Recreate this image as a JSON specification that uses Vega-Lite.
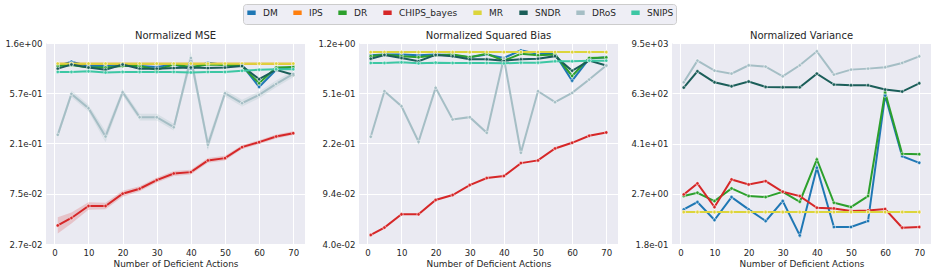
{
  "$schema": "https://vega.github.io/schema/vega-lite/v6.json",
  "background": "white",
  "padding": {"left": 4, "top": 3, "right": 4, "bottom": 2},
  "spacing": 12,
  "datasets": {
    "d": [
      {"panel":"MSE","method":"DM","x":1,"y":0.99},{"panel":"MSE","method":"DM","x":5,"y":1.08},{"panel":"MSE","method":"DM","x":10,"y":0.99},{"panel":"MSE","method":"DM","x":15,"y":0.99},{"panel":"MSE","method":"DM","x":20,"y":1.01},{"panel":"MSE","method":"DM","x":25,"y":0.99},{"panel":"MSE","method":"DM","x":30,"y":0.97},{"panel":"MSE","method":"DM","x":35,"y":1.02},{"panel":"MSE","method":"DM","x":40,"y":0.94},{"panel":"MSE","method":"DM","x":45,"y":1.06},{"panel":"MSE","method":"DM","x":50,"y":1.01},{"panel":"MSE","method":"DM","x":55,"y":1.01},{"panel":"MSE","method":"DM","x":60,"y":0.65},{"panel":"MSE","method":"DM","x":65,"y":0.92},{"panel":"MSE","method":"DM","x":70,"y":0.97},
      {"panel":"MSE","method":"IPS","x":1,"y":1.04},{"panel":"MSE","method":"IPS","x":5,"y":1.04},{"panel":"MSE","method":"IPS","x":10,"y":1.04},{"panel":"MSE","method":"IPS","x":15,"y":1.04},{"panel":"MSE","method":"IPS","x":20,"y":1.04},{"panel":"MSE","method":"IPS","x":25,"y":1.04},{"panel":"MSE","method":"IPS","x":30,"y":1.04},{"panel":"MSE","method":"IPS","x":35,"y":1.04},{"panel":"MSE","method":"IPS","x":40,"y":1.04},{"panel":"MSE","method":"IPS","x":45,"y":1.04},{"panel":"MSE","method":"IPS","x":50,"y":1.04},{"panel":"MSE","method":"IPS","x":55,"y":1.04},{"panel":"MSE","method":"IPS","x":60,"y":1.04},{"panel":"MSE","method":"IPS","x":65,"y":1.04},{"panel":"MSE","method":"IPS","x":70,"y":1.04},
      {"panel":"MSE","method":"DR","x":1,"y":0.99},{"panel":"MSE","method":"DR","x":5,"y":1.01},{"panel":"MSE","method":"DR","x":10,"y":0.96},{"panel":"MSE","method":"DR","x":15,"y":0.96},{"panel":"MSE","method":"DR","x":20,"y":0.99},{"panel":"MSE","method":"DR","x":25,"y":0.99},{"panel":"MSE","method":"DR","x":30,"y":0.92},{"panel":"MSE","method":"DR","x":35,"y":1.02},{"panel":"MSE","method":"DR","x":40,"y":0.97},{"panel":"MSE","method":"DR","x":45,"y":1.02},{"panel":"MSE","method":"DR","x":50,"y":1.01},{"panel":"MSE","method":"DR","x":55,"y":0.99},{"panel":"MSE","method":"DR","x":60,"y":0.70},{"panel":"MSE","method":"DR","x":65,"y":0.96},{"panel":"MSE","method":"DR","x":70,"y":0.97},
      {"panel":"MSE","method":"CHIPS_bayes","x":1,"y":0.0396,"lo":0.0336,"hi":0.0467},{"panel":"MSE","method":"CHIPS_bayes","x":5,"y":0.046,"lo":0.0411,"hi":0.0515},{"panel":"MSE","method":"CHIPS_bayes","x":10,"y":0.0586,"lo":0.0543,"hi":0.0633},{"panel":"MSE","method":"CHIPS_bayes","x":15,"y":0.0586,"lo":0.0548,"hi":0.0627},{"panel":"MSE","method":"CHIPS_bayes","x":20,"y":0.0751,"lo":0.0708,"hi":0.0796},{"panel":"MSE","method":"CHIPS_bayes","x":25,"y":0.0831,"lo":0.0791,"hi":0.0873},{"panel":"MSE","method":"CHIPS_bayes","x":30,"y":0.0989,"lo":0.0942,"hi":0.1038},{"panel":"MSE","method":"CHIPS_bayes","x":35,"y":0.1131,"lo":0.1077,"hi":0.1188},{"panel":"MSE","method":"CHIPS_bayes","x":40,"y":0.1162,"lo":0.1107,"hi":0.122},{"panel":"MSE","method":"CHIPS_bayes","x":45,"y":0.1471,"lo":0.1401,"hi":0.1545},{"panel":"MSE","method":"CHIPS_bayes","x":50,"y":0.1541,"lo":0.1468,"hi":0.1618},{"panel":"MSE","method":"CHIPS_bayes","x":55,"y":0.1924,"lo":0.185,"hi":0.2001},{"panel":"MSE","method":"CHIPS_bayes","x":60,"y":0.2129,"lo":0.2047,"hi":0.2214},{"panel":"MSE","method":"CHIPS_bayes","x":65,"y":0.2386,"lo":0.2294,"hi":0.2481},{"panel":"MSE","method":"CHIPS_bayes","x":70,"y":0.2552,"lo":0.2454,"hi":0.2654},
      {"panel":"MSE","method":"MR","x":1,"y":1.04},{"panel":"MSE","method":"MR","x":5,"y":1.04},{"panel":"MSE","method":"MR","x":10,"y":1.04},{"panel":"MSE","method":"MR","x":15,"y":1.04},{"panel":"MSE","method":"MR","x":20,"y":1.04},{"panel":"MSE","method":"MR","x":25,"y":1.04},{"panel":"MSE","method":"MR","x":30,"y":1.04},{"panel":"MSE","method":"MR","x":35,"y":1.04},{"panel":"MSE","method":"MR","x":40,"y":1.04},{"panel":"MSE","method":"MR","x":45,"y":1.04},{"panel":"MSE","method":"MR","x":50,"y":1.04},{"panel":"MSE","method":"MR","x":55,"y":1.04},{"panel":"MSE","method":"MR","x":60,"y":1.04},{"panel":"MSE","method":"MR","x":65,"y":1.04},{"panel":"MSE","method":"MR","x":70,"y":1.04},
      {"panel":"MSE","method":"SNDR","x":1,"y":0.94},{"panel":"MSE","method":"SNDR","x":5,"y":1.02},{"panel":"MSE","method":"SNDR","x":10,"y":0.96},{"panel":"MSE","method":"SNDR","x":15,"y":0.92},{"panel":"MSE","method":"SNDR","x":20,"y":1.02},{"panel":"MSE","method":"SNDR","x":25,"y":0.94},{"panel":"MSE","method":"SNDR","x":30,"y":0.94},{"panel":"MSE","method":"SNDR","x":35,"y":0.95},{"panel":"MSE","method":"SNDR","x":40,"y":0.96},{"panel":"MSE","method":"SNDR","x":45,"y":0.95},{"panel":"MSE","method":"SNDR","x":50,"y":0.96},{"panel":"MSE","method":"SNDR","x":55,"y":0.99},{"panel":"MSE","method":"SNDR","x":60,"y":0.76},{"panel":"MSE","method":"SNDR","x":65,"y":0.92},{"panel":"MSE","method":"SNDR","x":70,"y":0.83},
      {"panel":"MSE","method":"DRoS","x":1,"y":0.2468,"lo":0.2307,"hi":0.2641},{"panel":"MSE","method":"DRoS","x":5,"y":0.5642,"lo":0.5273,"hi":0.6037},{"panel":"MSE","method":"DRoS","x":10,"y":0.4225,"lo":0.3949,"hi":0.4521},{"panel":"MSE","method":"DRoS","x":15,"y":0.2386,"lo":0.213,"hi":0.2672},{"panel":"MSE","method":"DRoS","x":20,"y":0.5834,"lo":0.5452,"hi":0.6242},{"panel":"MSE","method":"DRoS","x":25,"y":0.3525,"lo":0.3294,"hi":0.3772},{"panel":"MSE","method":"DRoS","x":30,"y":0.3525,"lo":0.3294,"hi":0.3772},{"panel":"MSE","method":"DRoS","x":35,"y":0.288,"lo":0.2692,"hi":0.3082},{"panel":"MSE","method":"DRoS","x":40,"y":1.166,"lo":1.014,"hi":1.341},{"panel":"MSE","method":"DRoS","x":45,"y":0.2017,"lo":0.1801,"hi":0.2259},{"panel":"MSE","method":"DRoS","x":50,"y":0.5718,"lo":0.5344,"hi":0.6118},{"panel":"MSE","method":"DRoS","x":55,"y":0.4675,"lo":0.4369,"hi":0.5002},{"panel":"MSE","method":"DRoS","x":60,"y":0.5529,"lo":0.5167,"hi":0.5916},{"panel":"MSE","method":"DRoS","x":65,"y":0.6903,"lo":0.6451,"hi":0.7386},{"panel":"MSE","method":"DRoS","x":70,"y":0.8448,"lo":0.7895,"hi":0.9039},
      {"panel":"MSE","method":"SNIPS","x":1,"y":0.88},{"panel":"MSE","method":"SNIPS","x":5,"y":0.88},{"panel":"MSE","method":"SNIPS","x":10,"y":0.89},{"panel":"MSE","method":"SNIPS","x":15,"y":0.87},{"panel":"MSE","method":"SNIPS","x":20,"y":0.88},{"panel":"MSE","method":"SNIPS","x":25,"y":0.88},{"panel":"MSE","method":"SNIPS","x":30,"y":0.88},{"panel":"MSE","method":"SNIPS","x":35,"y":0.88},{"panel":"MSE","method":"SNIPS","x":40,"y":0.87},{"panel":"MSE","method":"SNIPS","x":45,"y":0.88},{"panel":"MSE","method":"SNIPS","x":50,"y":0.88},{"panel":"MSE","method":"SNIPS","x":55,"y":0.9},{"panel":"MSE","method":"SNIPS","x":60,"y":0.92},{"panel":"MSE","method":"SNIPS","x":65,"y":0.93},{"panel":"MSE","method":"SNIPS","x":70,"y":0.93},

      {"panel":"Bias","method":"DM","x":1,"y":0.976},{"panel":"Bias","method":"DM","x":5,"y":0.987},{"panel":"Bias","method":"DM","x":10,"y":0.987},{"panel":"Bias","method":"DM","x":15,"y":0.976},{"panel":"Bias","method":"DM","x":20,"y":0.987},{"panel":"Bias","method":"DM","x":25,"y":0.976},{"panel":"Bias","method":"DM","x":30,"y":0.943},{"panel":"Bias","method":"DM","x":35,"y":0.987},{"panel":"Bias","method":"DM","x":40,"y":0.932},{"panel":"Bias","method":"DM","x":45,"y":1.058},{"panel":"Bias","method":"DM","x":50,"y":0.998},{"panel":"Bias","method":"DM","x":55,"y":0.998},{"panel":"Bias","method":"DM","x":60,"y":0.634},{"panel":"Bias","method":"DM","x":65,"y":0.921},{"panel":"Bias","method":"DM","x":70,"y":0.943},
      {"panel":"Bias","method":"IPS","x":1,"y":1.028},{"panel":"Bias","method":"IPS","x":5,"y":1.028},{"panel":"Bias","method":"IPS","x":10,"y":1.028},{"panel":"Bias","method":"IPS","x":15,"y":1.028},{"panel":"Bias","method":"IPS","x":20,"y":1.028},{"panel":"Bias","method":"IPS","x":25,"y":1.028},{"panel":"Bias","method":"IPS","x":30,"y":1.028},{"panel":"Bias","method":"IPS","x":35,"y":1.028},{"panel":"Bias","method":"IPS","x":40,"y":1.028},{"panel":"Bias","method":"IPS","x":45,"y":1.028},{"panel":"Bias","method":"IPS","x":50,"y":1.028},{"panel":"Bias","method":"IPS","x":55,"y":1.028},{"panel":"Bias","method":"IPS","x":60,"y":1.028},{"panel":"Bias","method":"IPS","x":65,"y":1.028},{"panel":"Bias","method":"IPS","x":70,"y":1.028},
      {"panel":"Bias","method":"DR","x":1,"y":0.959},{"panel":"Bias","method":"DR","x":5,"y":0.987},{"panel":"Bias","method":"DR","x":10,"y":0.959},{"panel":"Bias","method":"DR","x":15,"y":0.943},{"panel":"Bias","method":"DR","x":20,"y":0.976},{"panel":"Bias","method":"DR","x":25,"y":0.987},{"panel":"Bias","method":"DR","x":30,"y":0.943},{"panel":"Bias","method":"DR","x":35,"y":0.998},{"panel":"Bias","method":"DR","x":40,"y":0.89},{"panel":"Bias","method":"DR","x":45,"y":0.998},{"panel":"Bias","method":"DR","x":50,"y":0.976},{"panel":"Bias","method":"DR","x":55,"y":0.987},{"panel":"Bias","method":"DR","x":60,"y":0.687},{"panel":"Bias","method":"DR","x":65,"y":0.93},{"panel":"Bias","method":"DR","x":70,"y":0.94},
      {"panel":"Bias","method":"CHIPS_bayes","x":1,"y":0.0466},{"panel":"Bias","method":"CHIPS_bayes","x":5,"y":0.0528},{"panel":"Bias","method":"CHIPS_bayes","x":10,"y":0.0661},{"panel":"Bias","method":"CHIPS_bayes","x":15,"y":0.0661},{"panel":"Bias","method":"CHIPS_bayes","x":20,"y":0.0842},{"panel":"Bias","method":"CHIPS_bayes","x":25,"y":0.0916},{"panel":"Bias","method":"CHIPS_bayes","x":30,"y":0.1084},{"panel":"Bias","method":"CHIPS_bayes","x":35,"y":0.1221},{"panel":"Bias","method":"CHIPS_bayes","x":40,"y":0.1263},{"panel":"Bias","method":"CHIPS_bayes","x":45,"y":0.1572},{"panel":"Bias","method":"CHIPS_bayes","x":50,"y":0.1645},{"panel":"Bias","method":"CHIPS_bayes","x":55,"y":0.2014},{"panel":"Bias","method":"CHIPS_bayes","x":60,"y":0.2216},{"panel":"Bias","method":"CHIPS_bayes","x":65,"y":0.2495},{"panel":"Bias","method":"CHIPS_bayes","x":70,"y":0.2639},
      {"panel":"Bias","method":"MR","x":1,"y":1.028},{"panel":"Bias","method":"MR","x":5,"y":1.028},{"panel":"Bias","method":"MR","x":10,"y":1.028},{"panel":"Bias","method":"MR","x":15,"y":1.028},{"panel":"Bias","method":"MR","x":20,"y":1.028},{"panel":"Bias","method":"MR","x":25,"y":1.028},{"panel":"Bias","method":"MR","x":30,"y":1.028},{"panel":"Bias","method":"MR","x":35,"y":1.028},{"panel":"Bias","method":"MR","x":40,"y":1.028},{"panel":"Bias","method":"MR","x":45,"y":1.028},{"panel":"Bias","method":"MR","x":50,"y":1.028},{"panel":"Bias","method":"MR","x":55,"y":1.028},{"panel":"Bias","method":"MR","x":60,"y":1.028},{"panel":"Bias","method":"MR","x":65,"y":1.028},{"panel":"Bias","method":"MR","x":70,"y":1.028},
      {"panel":"Bias","method":"SNDR","x":1,"y":0.92},{"panel":"Bias","method":"SNDR","x":5,"y":0.98},{"panel":"Bias","method":"SNDR","x":10,"y":0.93},{"panel":"Bias","method":"SNDR","x":15,"y":0.88},{"panel":"Bias","method":"SNDR","x":20,"y":0.98},{"panel":"Bias","method":"SNDR","x":25,"y":0.96},{"panel":"Bias","method":"SNDR","x":30,"y":0.91},{"panel":"Bias","method":"SNDR","x":35,"y":0.91},{"panel":"Bias","method":"SNDR","x":40,"y":0.89},{"panel":"Bias","method":"SNDR","x":45,"y":0.91},{"panel":"Bias","method":"SNDR","x":50,"y":0.92},{"panel":"Bias","method":"SNDR","x":55,"y":0.96},{"panel":"Bias","method":"SNDR","x":60,"y":0.75},{"panel":"Bias","method":"SNDR","x":65,"y":0.89},{"panel":"Bias","method":"SNDR","x":70,"y":0.82},
      {"panel":"Bias","method":"DRoS","x":1,"y":0.2454},{"panel":"Bias","method":"DRoS","x":5,"y":0.5305},{"panel":"Bias","method":"DRoS","x":10,"y":0.4117},{"panel":"Bias","method":"DRoS","x":15,"y":0.2254},{"panel":"Bias","method":"DRoS","x":20,"y":0.5611},{"panel":"Bias","method":"DRoS","x":25,"y":0.3287},{"panel":"Bias","method":"DRoS","x":30,"y":0.342},{"panel":"Bias","method":"DRoS","x":35,"y":0.2624},{"panel":"Bias","method":"DRoS","x":40,"y":0.931},{"panel":"Bias","method":"DRoS","x":45,"y":0.1872},{"panel":"Bias","method":"DRoS","x":50,"y":0.5305},{"panel":"Bias","method":"DRoS","x":55,"y":0.4406},{"panel":"Bias","method":"DRoS","x":60,"y":0.5157},{"panel":"Bias","method":"DRoS","x":65,"y":0.6458},{"panel":"Bias","method":"DRoS","x":70,"y":0.8183},
      {"panel":"Bias","method":"SNIPS","x":1,"y":0.855},{"panel":"Bias","method":"SNIPS","x":5,"y":0.855},{"panel":"Bias","method":"SNIPS","x":10,"y":0.865},{"panel":"Bias","method":"SNIPS","x":15,"y":0.85},{"panel":"Bias","method":"SNIPS","x":20,"y":0.86},{"panel":"Bias","method":"SNIPS","x":25,"y":0.855},{"panel":"Bias","method":"SNIPS","x":30,"y":0.855},{"panel":"Bias","method":"SNIPS","x":35,"y":0.855},{"panel":"Bias","method":"SNIPS","x":40,"y":0.85},{"panel":"Bias","method":"SNIPS","x":45,"y":0.86},{"panel":"Bias","method":"SNIPS","x":50,"y":0.86},{"panel":"Bias","method":"SNIPS","x":55,"y":0.88},{"panel":"Bias","method":"SNIPS","x":60,"y":0.88},{"panel":"Bias","method":"SNIPS","x":65,"y":0.89},{"panel":"Bias","method":"SNIPS","x":70,"y":0.89},

      {"panel":"Var","method":"DM","x":1,"y":1.17},{"panel":"Var","method":"DM","x":5,"y":1.739},{"panel":"Var","method":"DM","x":10,"y":0.658},{"panel":"Var","method":"DM","x":15,"y":2.278},{"panel":"Var","method":"DM","x":20,"y":1.17},{"panel":"Var","method":"DM","x":25,"y":0.623},{"panel":"Var","method":"DM","x":30,"y":1.835},{"panel":"Var","method":"DM","x":35,"y":0.287},{"panel":"Var","method":"DM","x":40,"y":11.11},{"panel":"Var","method":"DM","x":45,"y":0.4506},{"panel":"Var","method":"DM","x":50,"y":0.4506},{"panel":"Var","method":"DM","x":55,"y":0.623},{"panel":"Var","method":"DM","x":60,"y":552},{"panel":"Var","method":"DM","x":65,"y":20.86},{"panel":"Var","method":"DM","x":70,"y":14.55},
      {"panel":"Var","method":"IPS","x":1,"y":1.013},{"panel":"Var","method":"IPS","x":5,"y":1.013},{"panel":"Var","method":"IPS","x":10,"y":1.013},{"panel":"Var","method":"IPS","x":15,"y":1.013},{"panel":"Var","method":"IPS","x":20,"y":1.013},{"panel":"Var","method":"IPS","x":25,"y":1.013},{"panel":"Var","method":"IPS","x":30,"y":1.013},{"panel":"Var","method":"IPS","x":35,"y":1.013},{"panel":"Var","method":"IPS","x":40,"y":1.013},{"panel":"Var","method":"IPS","x":45,"y":1.013},{"panel":"Var","method":"IPS","x":50,"y":1.013},{"panel":"Var","method":"IPS","x":55,"y":1.013},{"panel":"Var","method":"IPS","x":60,"y":1.013},{"panel":"Var","method":"IPS","x":65,"y":1.013},{"panel":"Var","method":"IPS","x":70,"y":1.013},
      {"panel":"Var","method":"DR","x":1,"y":2.404},{"panel":"Var","method":"DR","x":5,"y":2.878},{"panel":"Var","method":"DR","x":10,"y":1.835},{"panel":"Var","method":"DR","x":15,"y":3.637},{"panel":"Var","method":"DR","x":20,"y":2.404},{"panel":"Var","method":"DR","x":25,"y":2.278},{"panel":"Var","method":"DR","x":30,"y":3.038},{"panel":"Var","method":"DR","x":35,"y":1.77},{"panel":"Var","method":"DR","x":40,"y":17.42},{"panel":"Var","method":"DR","x":45,"y":1.677},{"panel":"Var","method":"DR","x":50,"y":1.327},{"panel":"Var","method":"DR","x":55,"y":2.404},{"panel":"Var","method":"DR","x":60,"y":661},{"panel":"Var","method":"DR","x":65,"y":23.65},{"panel":"Var","method":"DR","x":70,"y":23.24},
      {"panel":"Var","method":"CHIPS_bayes","x":1,"y":2.63},{"panel":"Var","method":"CHIPS_bayes","x":5,"y":4.766},{"panel":"Var","method":"CHIPS_bayes","x":10,"y":1.327},{"panel":"Var","method":"CHIPS_bayes","x":15,"y":5.914},{"panel":"Var","method":"CHIPS_bayes","x":20,"y":4.514},{"panel":"Var","method":"CHIPS_bayes","x":25,"y":5.405},{"panel":"Var","method":"CHIPS_bayes","x":30,"y":3.038},{"panel":"Var","method":"CHIPS_bayes","x":35,"y":2.404},{"panel":"Var","method":"CHIPS_bayes","x":40,"y":1.28},{"panel":"Var","method":"CHIPS_bayes","x":45,"y":1.235},{"panel":"Var","method":"CHIPS_bayes","x":50,"y":1.069},{"panel":"Var","method":"CHIPS_bayes","x":55,"y":1.108},{"panel":"Var","method":"CHIPS_bayes","x":60,"y":1.191},{"panel":"Var","method":"CHIPS_bayes","x":65,"y":0.4347},{"panel":"Var","method":"CHIPS_bayes","x":70,"y":0.4506},
      {"panel":"Var","method":"MR","x":1,"y":1.013},{"panel":"Var","method":"MR","x":5,"y":1.013},{"panel":"Var","method":"MR","x":10,"y":1.013},{"panel":"Var","method":"MR","x":15,"y":1.013},{"panel":"Var","method":"MR","x":20,"y":1.013},{"panel":"Var","method":"MR","x":25,"y":1.013},{"panel":"Var","method":"MR","x":30,"y":1.013},{"panel":"Var","method":"MR","x":35,"y":1.013},{"panel":"Var","method":"MR","x":40,"y":1.013},{"panel":"Var","method":"MR","x":45,"y":1.013},{"panel":"Var","method":"MR","x":50,"y":1.013},{"panel":"Var","method":"MR","x":55,"y":1.013},{"panel":"Var","method":"MR","x":60,"y":1.013},{"panel":"Var","method":"MR","x":65,"y":1.013},{"panel":"Var","method":"MR","x":70,"y":1.013},
      {"panel":"Var","method":"SNDR","x":1,"y":851},{"panel":"Var","method":"SNDR","x":5,"y":2056},{"panel":"Var","method":"SNDR","x":10,"y":1135},{"panel":"Var","method":"SNDR","x":15,"y":915},{"panel":"Var","method":"SNDR","x":20,"y":1177},{"panel":"Var","method":"SNDR","x":25,"y":882},{"panel":"Var","method":"SNDR","x":30,"y":866},{"panel":"Var","method":"SNDR","x":35,"y":866},{"panel":"Var","method":"SNDR","x":40,"y":1813},{"panel":"Var","method":"SNDR","x":45,"y":1001},{"panel":"Var","method":"SNDR","x":50,"y":965},{"panel":"Var","method":"SNDR","x":55,"y":965},{"panel":"Var","method":"SNDR","x":60,"y":764},{"panel":"Var","method":"SNDR","x":65,"y":686},{"panel":"Var","method":"SNDR","x":70,"y":1075},
      {"panel":"Var","method":"DRoS","x":1,"y":1135},{"panel":"Var","method":"DRoS","x":5,"y":3659},{"panel":"Var","method":"DRoS","x":10,"y":2132},{"panel":"Var","method":"DRoS","x":15,"y":1813},{"panel":"Var","method":"DRoS","x":20,"y":2843},{"panel":"Var","method":"DRoS","x":25,"y":2646},{"panel":"Var","method":"DRoS","x":30,"y":1570},{"panel":"Var","method":"DRoS","x":35,"y":2843},{"panel":"Var","method":"DRoS","x":40,"y":6057},{"panel":"Var","method":"DRoS","x":45,"y":1718},{"panel":"Var","method":"DRoS","x":50,"y":2250},{"panel":"Var","method":"DRoS","x":55,"y":2375},{"panel":"Var","method":"DRoS","x":60,"y":2552},{"panel":"Var","method":"DRoS","x":65,"y":3226},{"panel":"Var","method":"DRoS","x":70,"y":4623}
    ]
  },
  "hconcat": [
    {
      "title": "Normalized MSE",
      "width": 259, "height": 201,
      "data": {"name": "d"},
      "transform": [{"filter": "datum.panel === 'MSE'"}],
      "encoding": {
        "x": {"field": "x", "type": "quantitative", "title": "Number of Deficient Actions", "scale": {"domain": [-2.45, 73.45], "nice": false, "zero": false}, "axis": {"values": [0,10,20,30,40,50,60,70]}}
      },
      "layer": [
        {
          "transform": [{"filter": "datum.method === 'CHIPS_bayes'"}],
          "mark": {"type": "area", "opacity": 0.2, "color": "#d62728"},
          "encoding": {
            "y": {"field": "lo", "type": "quantitative", "scale": {"type": "log", "domain": [0.0272, 1.578], "nice": false}, "axis": {"title": null, "values": [0.0272, 0.07507, 0.2072, 0.5719, 1.578], "labelExpr": "replace(replace(format(datum.value, '.1e'), 'e+', 'e+0'), 'e-', 'e-0')"}},
            "y2": {"field": "hi"}
          }
        },
        {
          "transform": [{"filter": "datum.method === 'DRoS'"}],
          "mark": {"type": "area", "opacity": 0.25, "color": "#a5bec5"},
          "encoding": {
            "y": {"field": "lo", "type": "quantitative"},
            "y2": {"field": "hi"}
          }
        },
        {
          "mark": {"type": "line", "strokeWidth": 2, "point": {"filled": true, "size": 12, "stroke": "white", "strokeWidth": 0.5}},
          "encoding": {
            "y": {"field": "y", "type": "quantitative"},
            "color": {"field": "method", "type": "nominal", "scale": {"domain": ["DM","IPS","DR","CHIPS_bayes","MR","SNDR","DRoS","SNIPS"], "range": ["#1f77b4", "#ff7f0e", "#2ca02c", "#d62728", "#dcd53c", "#1b5e59", "#a5bec5", "#3dc7a4"]}}
          }
        }
      ]
    },
    {
      "title": "Normalized Squared Bias",
      "width": 259, "height": 201,
      "data": {"name": "d"},
      "transform": [{"filter": "datum.panel === 'Bias'"}],
      "mark": {"type": "line", "strokeWidth": 2, "point": {"filled": true, "size": 12, "stroke": "white", "strokeWidth": 0.5}},
      "encoding": {
        "x": {"field": "x", "type": "quantitative", "title": "Number of Deficient Actions", "scale": {"domain": [-2.45, 73.45], "nice": false, "zero": false}, "axis": {"values": [0,10,20,30,40,50,60,70]}},
        "y": {"field": "y", "type": "quantitative", "scale": {"type": "log", "domain": [0.04, 1.199287], "nice": false}, "axis": {"title": null, "values": [0.04, 0.0936, 0.219024, 0.512516, 1.199287], "labelExpr": "replace(replace(format(datum.value, '.1e'), 'e+', 'e+0'), 'e-', 'e-0')"}},
        "color": {"field": "method", "type": "nominal", "scale": {"domain": ["DM","IPS","DR","CHIPS_bayes","MR","SNDR","DRoS","SNIPS"], "range": ["#1f77b4", "#ff7f0e", "#2ca02c", "#d62728", "#dcd53c", "#1b5e59", "#a5bec5", "#3dc7a4"]}}
      }
    },
    {
      "title": "Normalized Variance",
      "width": 259, "height": 201,
      "data": {"name": "d"},
      "transform": [{"filter": "datum.panel === 'Var'"}],
      "mark": {"type": "line", "strokeWidth": 2, "point": {"filled": true, "size": 12, "stroke": "white", "strokeWidth": 0.5}},
      "encoding": {
        "x": {"field": "x", "type": "quantitative", "title": "Number of Deficient Actions", "scale": {"domain": [-2.45, 73.45], "nice": false, "zero": false}, "axis": {"values": [0,10,20,30,40,50,60,70]}},
        "y": {"field": "y", "type": "quantitative", "scale": {"type": "log", "domain": [0.18, 9500], "nice": false}, "axis": {"title": null, "values": [0.18, 2.728, 41.35, 626.8, 9500], "labelExpr": "replace(replace(format(datum.value, '.1e'), 'e+', 'e+0'), 'e-', 'e-0')"}},
        "color": {"field": "method", "type": "nominal", "scale": {"domain": ["DM","IPS","DR","CHIPS_bayes","MR","SNDR","DRoS","SNIPS"], "range": ["#1f77b4", "#ff7f0e", "#2ca02c", "#d62728", "#dcd53c", "#1b5e59", "#a5bec5", "#3dc7a4"]}}
      }
    }
  ],
  "resolve": {"scale": {"x": "independent", "y": "independent", "color": "shared"}},
  "config": {
    "view": {"fill": "#EAEAF2", "stroke": null},
    "font": "DejaVu Sans",
    "axis": {"grid": true, "gridColor": "white", "gridWidth": 1, "domain": false, "ticks": false, "labelFont": "DejaVu Sans", "labelFontSize": 8.6, "labelColor": "#262626", "labelPadding": 4, "titleFont": "DejaVu Sans", "titleFontSize": 8.9, "titleFontWeight": "normal", "titleColor": "#262626", "titlePadding": 3},
    "title": {"font": "DejaVu Sans", "fontSize": 10, "fontWeight": "normal", "color": "#262626", "offset": -2},
    "legend": {
      "orient": "none", "legendX": 197, "legendY": -39, "direction": "horizontal", "columns": 8,
      "title": null, "fillColor": "#EEEEF5", "strokeColor": "#CCCCCC", "padding": 2, "cornerRadius": 3,
      "symbolType": "stroke", "symbolSize": 70, "symbolStrokeWidth": 4.5, "symbolOpacity": 1, "labelFont": "DejaVu Sans", "labelFontSize": 9, "labelColor": "#262626", "columnPadding": 6, "labelOffset": 5
    }
  }
}
